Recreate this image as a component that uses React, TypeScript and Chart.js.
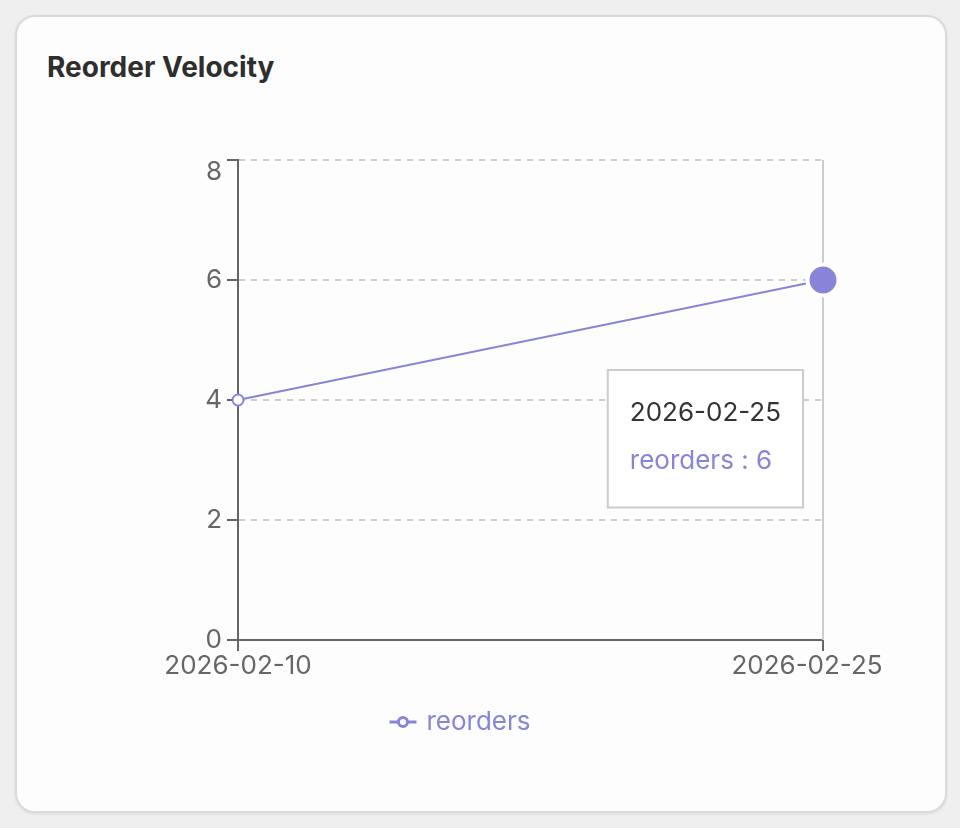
import React, { useEffect, useRef } from "react";
import { Chart, registerables, Tooltip } from "chart.js";

Chart.register(...registerables);

// ---- data ----
const TITLE = "Reorder Velocity";
const DATES = ["2026-02-10", "2026-02-25"];
const REORDERS = [4, 6];
const SERIES_LABEL = "reorders";
const Y_TICKS = [0, 2, 4, 6, 8];
const ACTIVE_INDEX = 1;

// ---- styles ----
const PURPLE = "#8884d8";
const AXIS = "#666666";
const GRID = "#cccccc";
const FONT = "Inter, 'Noto Sans', sans-serif";
const TICK_SIZE = 26;

(Tooltip as any).positioners.cardFixed = function (this: any) {
  const ca = this.chart.chartArea;
  return { x: ca.right - 20, y: ca.top + 210 };
};

const cursorPlugin = {
  id: "cursorLine",
  beforeDatasetsDraw(chart: any) {
    const { ctx, chartArea } = chart;
    const x = chart.scales.x.getPixelForValue(ACTIVE_INDEX);
    ctx.save();
    ctx.strokeStyle = GRID;
    ctx.lineWidth = 2;
    ctx.beginPath();
    ctx.moveTo(x, chartArea.top);
    ctx.lineTo(x, chartArea.bottom);
    ctx.stroke();
    ctx.restore();
  },
};

// keep the outermost labels inside the plot frame (last x label nudged left, top y label nudged down)
const edgeLabelPlugin = {
  id: "edgeLabels",
  beforeDraw(chart: any) {
    const xs = chart.scales.x;
    const ys = chart.scales.y;
    const xItems = xs.getLabelItems(chart.chartArea);
    const lastX = xItems[xItems.length - 1];
    if (lastX && !lastX._nudged) {
      lastX.options.translation[0] -= 16;
      lastX._nudged = true;
    }
    const yItems = ys.getLabelItems(chart.chartArea);
    for (const it of yItems) {
      if (!it._nudged && it.label === String(Y_TICKS[Y_TICKS.length - 1])) {
        it.options.translation[1] += 12;
        it._nudged = true;
      }
    }
  },
};

const legendPlugin = {
  id: "lineLegend",
  afterDraw(chart: any) {
    const { ctx, chartArea } = chart;
    const ds = chart.data.datasets[0];
    ctx.save();
    ctx.font = `${TICK_SIZE}px ${FONT}`;
    const text = ds.label as string;
    const tw = ctx.measureText(text).width;
    const iconW = 27;
    const gap = 10;
    const total = iconW + gap + tw;
    const cx = 460;
    const y = chartArea.bottom + 82;
    const x = cx - total / 2;
    ctx.strokeStyle = PURPLE;
    ctx.lineWidth = 3;
    ctx.beginPath();
    ctx.moveTo(x, y);
    ctx.lineTo(x + iconW, y);
    ctx.stroke();
    ctx.beginPath();
    ctx.arc(x + iconW / 2, y, 4.5, 0, Math.PI * 2);
    ctx.fillStyle = "#fff";
    ctx.fill();
    ctx.stroke();
    ctx.fillStyle = PURPLE;
    ctx.textBaseline = "middle";
    ctx.textAlign = "left";
    ctx.fillText(text, x + iconW + gap, y);
    ctx.restore();
  },
};

export default function App() {
  const canvasRef = useRef<HTMLCanvasElement | null>(null);

  useEffect(() => {
    const canvas = canvasRef.current;
    if (!canvas) return;
    const isActive = (c: any) => c.dataIndex === ACTIVE_INDEX;
    const chart = new Chart(canvas, {
      type: "line",
      data: {
        labels: DATES,
        datasets: [
          {
            label: SERIES_LABEL,
            data: REORDERS,
            borderColor: PURPLE,
            borderWidth: 2,
            tension: 0,
            fill: false,
            clip: false as any,
            pointRadius: (c: any) => (isActive(c) ? 15.5 : 5.5),
            pointHoverRadius: (c: any) => (isActive(c) ? 15.5 : 5.5),
            pointBackgroundColor: (c: any) => (isActive(c) ? PURPLE : "#fff"),
            pointHoverBackgroundColor: (c: any) => (isActive(c) ? PURPLE : "#fff"),
            pointBorderColor: (c: any) => (isActive(c) ? "#fff" : PURPLE),
            pointHoverBorderColor: (c: any) => (isActive(c) ? "#fff" : PURPLE),
            pointBorderWidth: (c: any) => (isActive(c) ? 4 : 2),
            pointHoverBorderWidth: (c: any) => (isActive(c) ? 4 : 2),
          } as any,
        ],
      },
      options: {
        responsive: false,
        maintainAspectRatio: false,
        animation: false,
        devicePixelRatio: 1,
        events: [],
        layout: { padding: { left: 0, right: 137, top: 160, bottom: 128 } },
        scales: {
          x: {
            type: "category",
            offset: false,
            grid: {
              drawOnChartArea: false,
              drawTicks: true,
              tickLength: 11,
              tickColor: AXIS,
              tickWidth: 2,
              color: AXIS,
              lineWidth: 2,
            },
            border: { display: true, color: AXIS, width: 2 },
            ticks: {
              color: AXIS,
              font: { family: FONT, size: TICK_SIZE },
              padding: 0,
              maxRotation: 0,
              autoSkip: false,
            },
            afterFit: (s: any) => {
              s.height = 60;
              s.paddingLeft = 0;
              s.paddingRight = 0;
            },
          },
          y: {
            min: 0,
            max: 8,
            afterBuildTicks: (s: any) => {
              s.ticks = Y_TICKS.map((v) => ({ value: v }));
            },
            grid: {
              color: (c: any) => (c.tick && c.tick.value === 0 ? "rgba(0,0,0,0)" : GRID),
              lineWidth: 2,
              drawTicks: true,
              tickLength: 11,
              tickColor: AXIS,
              tickWidth: 2,
              tickBorderDash: [],
            } as any,
            border: { display: true, color: AXIS, width: 2, dash: [6, 6] } as any,
            ticks: {
              color: AXIS,
              font: { family: FONT, size: TICK_SIZE },
              padding: 5,
            },
            afterFit: (s: any) => {
              s.width = 238;
              s.paddingTop = 0;
              s.paddingBottom = 0;
            },
          },
        },
        plugins: {
          legend: { display: false },
          tooltip: {
            enabled: true,
            position: "cardFixed" as any,
            xAlign: "right",
            yAlign: "top",
            backgroundColor: "#fff",
            borderColor: GRID,
            borderWidth: 2,
            cornerRadius: 0,
            caretSize: 0,
            caretPadding: 0,
            displayColors: false,
            titleColor: "#333",
            bodyColor: PURPLE,
            titleFont: { family: FONT, size: TICK_SIZE, weight: "normal" as any },
            bodyFont: { family: FONT, size: TICK_SIZE },
            padding: { top: 28, bottom: 31, left: 22, right: 22 },
            titleMarginBottom: 16,
            callbacks: {
              title: (items: any[]) => items[0].label,
              label: (c: any) => `${c.dataset.label} : ${c.parsed.y}`,
            },
          },
        },
      },
      plugins: [cursorPlugin, edgeLabelPlugin, legendPlugin],
    });

    const el: any = chart.getDatasetMeta(0).data[ACTIVE_INDEX];
    chart.tooltip?.setActiveElements([{ datasetIndex: 0, index: ACTIVE_INDEX }], { x: el.x, y: el.y });
    chart.update();

    return () => chart.destroy();
  }, []);

  return (
    <div
      style={{
        position: "fixed",
        left: 0,
        top: 0,
        width: 960,
        height: 828,
        background: "#efefef",
        overflow: "hidden",
      }}
    >
      <div
        style={{
          position: "absolute",
          left: 15,
          top: 15,
          width: 932,
          height: 798,
          boxSizing: "border-box",
          background: "#fdfdfd",
          border: "2px solid #dadada",
          borderRadius: 20,
          boxShadow: "0 1px 3px rgba(0,0,0,0.08)",
        }}
      />
      <div
        style={{
          position: "absolute",
          left: 47,
          top: 50,
          fontFamily: FONT,
          fontWeight: 700,
          fontSize: 28,
          lineHeight: "normal",
          color: "#2e2e2e",
          whiteSpace: "nowrap",
        }}
      >
        {TITLE}
      </div>
      <canvas
        ref={canvasRef}
        width={960}
        height={828}
        style={{ position: "absolute", left: 0, top: 0, width: 960, height: 828 }}
      />
    </div>
  );
}
